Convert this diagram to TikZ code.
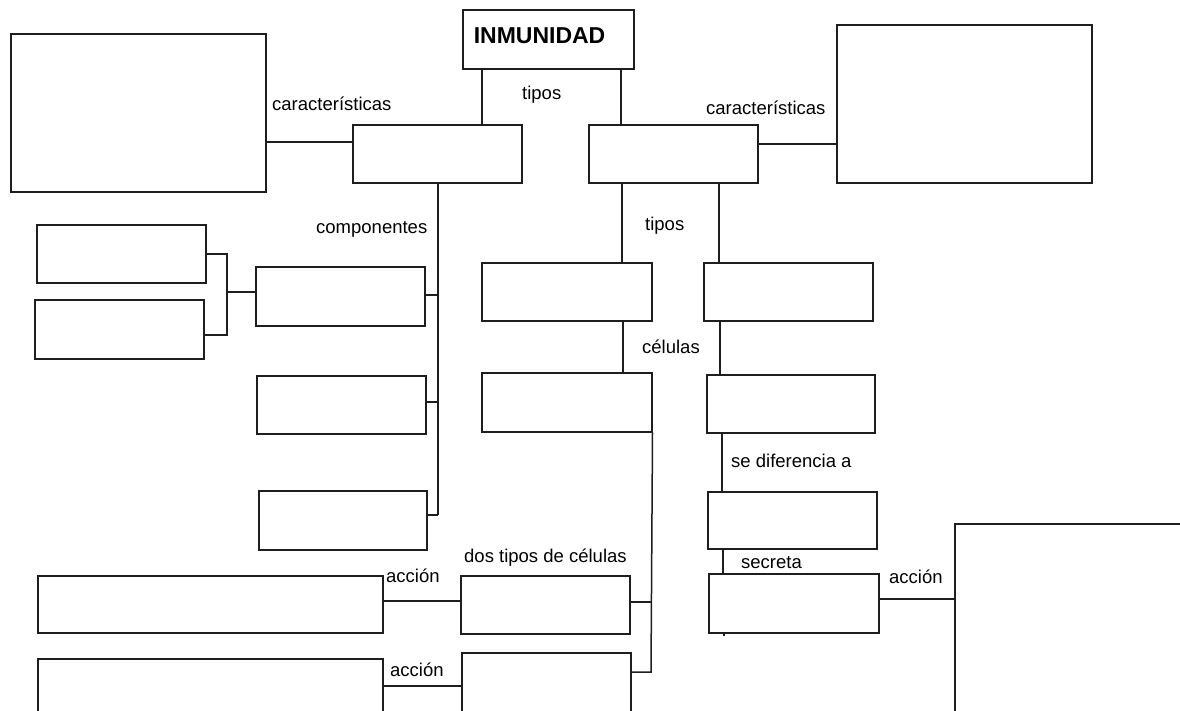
\documentclass[tikz,border=0pt]{standalone}
\usepackage{fontspec}
\setmainfont{Liberation Sans}
\usetikzlibrary{calc}
\definecolor{ink}{HTML}{1E1E1E}
\tikzset{
  box/.style={draw=ink, line width=1.5pt, rectangle, inner sep=0pt, anchor=north west},
  conn/.style={draw=ink, line width=1.5pt},
  lbl/.style={anchor=base west, inner sep=0pt, font=\fontsize{18.5}{20}\selectfont, text=black},
}
\newcommand{\bx}[5]{\node[box, minimum width={#4-#2}, minimum height={#5-#3}] (#1) at (#2,#3) {};}
\begin{document}
\begin{tikzpicture}[x=1pt,y=-1pt]
\useasboundingbox (0,0) rectangle (1180,710);
\fill[white] (0,0) rectangle (1180,710);
\begin{scope}
\clip (0,0) rectangle (1180,710);
% title
\node[box, minimum width=171, minimum height=59, text width=149, align=left, inner xsep=11pt,
      text height=16.5pt, text depth=7.5pt, font=\fontsize{23}{25}\selectfont\bfseries] (inm) at (462,9) {INMUNIDAD};
% boxes
\bx{L}{10}{33}{265}{191}
\bx{A}{352}{124}{521}{182}
\bx{B}{588}{124}{757}{182}
\bx{R}{836}{24}{1091}{182}
\bx{C1}{36}{224}{205}{282}
\bx{C2}{34}{299}{203}{358}
\bx{D1}{255}{266}{424}{325}
\bx{D2}{256}{375}{425}{433}
\bx{D3}{258}{490}{426}{549}
\bx{E1}{481}{262}{651}{320}
\bx{E2}{481}{372}{651}{431}
\bx{F1}{703}{262}{872}{320}
\bx{F2}{706}{374}{874}{432}
\bx{F3}{707}{491}{876}{548}
\bx{F4}{708}{573}{878}{632}
\bx{G}{954}{523}{1220}{740}
\bx{I1}{37}{575}{382}{632}
\bx{I2}{37}{658}{382}{740}
\bx{H1}{460}{575}{629}{633}
\bx{H2}{461}{652}{630}{740}
% free coordinates
\coordinate (spA) at (438,515);
\coordinate (brk) at (227,292);
\coordinate (spE) at (651,672);
\coordinate (tick) at (724,636);
% connectors
\draw[conn] (482,0 |- inm.south) -- (482,0 |- A.north);
\draw[conn] (621,0 |- inm.south) -- (621,0 |- B.north);
\draw[conn] (L.east |- 0,142) -- (A.west |- 0,142);
\draw[conn] (B.east |- 0,144) -- (R.west |- 0,144);
\draw[conn] (spA |- A.south) -- (spA);
\draw[conn] (D1.east |- 0,295) -- (spA |- 0,295);
\draw[conn] (D2.east |- 0,402) -- (spA |- 0,402);
\draw[conn] (D3.east |- spA) -- (spA);
\draw[conn] (C1.east |- 0,254) -- (brk |- 0,254) -- (brk |- 0,335) -- (C2.east |- 0,335);
\draw[conn] (brk) -- (D1.west |- brk);
\draw[conn] (622,0 |- B.south) -- (622,0 |- E1.north);
\draw[conn] (719,0 |- B.south) -- (719,0 |- F1.north);
\draw[conn] (623,0 |- E1.south) -- (623,0 |- E2.north);
\draw[conn] (720,0 |- F1.south) -- (720,0 |- F2.north);
\draw[conn] (722,0 |- F2.south) -- (722,0 |- F3.north);
\draw[conn] (723,0 |- F3.south) -- (723,0 |- F4.north);
\draw[conn] (tick |- F4.south) -- (tick);
\draw[conn] (E2.south east) -- (spE) -- (H2.east |- spE);
\draw[conn] (H1.east |- 0,602) -- (spE |- 0,602);
\draw[conn] (I1.east |- 0,601) -- (H1.west |- 0,601);
\draw[conn] (I2.east |- 0,686) -- (H2.west |- 0,686);
\draw[conn] (F4.east |- 0,599) -- (G.west |- 0,599);
\end{scope}
% labels
\node[lbl] (t1) at (522,99) {tipos};
\node[lbl] (c1) at (272,110) {características};
\node[lbl] (c2) at (706,114) {características};
\node[lbl] (comp) at (316,233) {componentes};
\node[lbl] (t2) at (645,230) {tipos};
\node[lbl] (cel) at (642,353) {células};
\node[lbl] (sed) at (731,467) {se diferencia a};
\node[lbl] (dos) at (464,562) {dos tipos de células};
\node[lbl] (sec) at (741,568) {secreta};
\node[lbl] (ac1) at (386,582) {acción};
\node[lbl] (ac2) at (390,676) {acción};
\node[lbl] (ac3) at (889,583) {acción};
\end{tikzpicture}
\end{document}
